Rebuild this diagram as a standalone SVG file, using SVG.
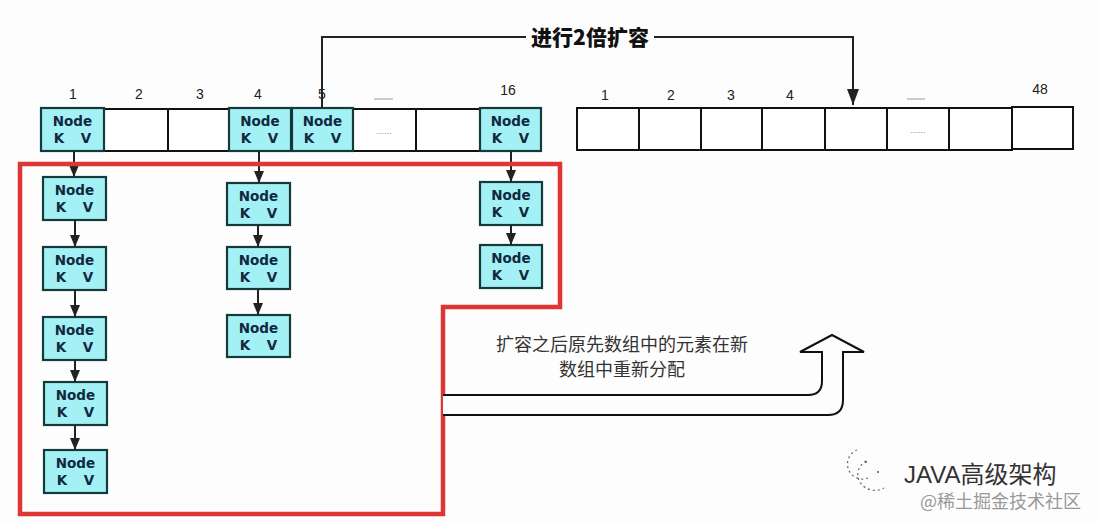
<svg xmlns="http://www.w3.org/2000/svg" width="1100" height="524" viewBox="0 0 1100 524">
<defs>
<style>
.cell{fill:#ffffff;stroke:#111;stroke-width:2}
.node rect{fill:#a3f1f4;stroke:#143a3c;stroke-width:2.2}
.node text{font-family:"DejaVu Sans","Liberation Sans",sans-serif;font-size:13.5px;fill:#102840;text-anchor:middle;font-weight:600}
.idx{font-family:"Liberation Sans",sans-serif;font-size:14px;fill:#222;text-anchor:middle}
.link{stroke:#222;stroke-width:2;fill:none;marker-end:url(#ah)}
.dots{font-family:"Liberation Sans",sans-serif;font-size:9px;fill:#888;text-anchor:middle}
.dash{stroke:#aaa;stroke-width:1.2}
</style>
<marker id="ah" viewBox="0 0 12 10" markerWidth="12" markerHeight="10" refX="12" refY="5" orient="auto" markerUnits="userSpaceOnUse">
<path d="M0,0 L12,5 L0,10 z" fill="#222"/>
</marker>
<marker id="ah2" viewBox="0 0 16 12" markerWidth="16" markerHeight="12" refX="16" refY="6" orient="auto" markerUnits="userSpaceOnUse">
<path d="M0,0 L16,6 L0,12 z" fill="#222"/>
</marker>
</defs>
<rect width="1100" height="524" fill="#fdfdfd"/>

<!-- old array -->
<g id="old-array">
<rect class="cell" x="104" y="109" width="64" height="42"/>
<rect class="cell" x="168" y="109" width="61" height="42"/>
<rect class="cell" x="353" y="109" width="63" height="42"/>
<text class="dots" x="384" y="134">......</text>
<rect class="cell" x="416" y="109" width="64" height="42"/>
<text class="idx" x="73" y="99">1</text>
<text class="idx" x="139" y="99">2</text>
<text class="idx" x="200" y="99">3</text>
<text class="idx" x="258" y="99">4</text>
<text class="idx" x="322" y="99">5</text>
<line class="dash" x1="374" y1="99" x2="393" y2="99"/>
<text class="idx" x="508" y="95">16</text>
</g>

<g id="a1" class="node"><rect x="41" y="108" width="63" height="43"/><text x="72.5" y="126">Node</text><text y="143"><tspan x="59">K</tspan><tspan x="86">V</tspan></text></g>
<g id="a4" class="node"><rect x="229" y="108" width="62" height="43"/><text x="260" y="126">Node</text><text y="143"><tspan x="246">K</tspan><tspan x="273">V</tspan></text></g>
<g id="a5" class="node"><rect x="292" y="108" width="61" height="43"/><text x="322.5" y="126">Node</text><text y="143"><tspan x="309">K</tspan><tspan x="336">V</tspan></text></g>
<g id="a16" class="node"><rect x="480" y="108" width="61" height="43"/><text x="510.5" y="126">Node</text><text y="143"><tspan x="497">K</tspan><tspan x="524">V</tspan></text></g>

<!-- chains -->
<g id="c1n1" class="node"><rect x="43" y="177" width="63" height="43"/><text x="74.5" y="195">Node</text><text y="212"><tspan x="61">K</tspan><tspan x="88">V</tspan></text></g>
<g id="c1n2" class="node"><rect x="43" y="247" width="63" height="43"/><text x="74.5" y="265">Node</text><text y="282"><tspan x="61">K</tspan><tspan x="88">V</tspan></text></g>
<g id="c1n3" class="node"><rect x="43" y="317" width="63" height="43"/><text x="74.5" y="335">Node</text><text y="352"><tspan x="61">K</tspan><tspan x="88">V</tspan></text></g>
<g id="c1n4" class="node"><rect x="44" y="382" width="63" height="43"/><text x="75.5" y="400">Node</text><text y="417"><tspan x="62">K</tspan><tspan x="89">V</tspan></text></g>
<g id="c1n5" class="node"><rect x="44" y="450" width="63" height="43"/><text x="75.5" y="468">Node</text><text y="485"><tspan x="62">K</tspan><tspan x="89">V</tspan></text></g>

<g id="c2n1" class="node"><rect x="227" y="183" width="63" height="42"/><text x="258.5" y="201">Node</text><text y="218"><tspan x="245">K</tspan><tspan x="272">V</tspan></text></g>
<g id="c2n2" class="node"><rect x="227" y="247" width="63" height="42"/><text x="258.5" y="265">Node</text><text y="282"><tspan x="245">K</tspan><tspan x="272">V</tspan></text></g>
<g id="c2n3" class="node"><rect x="227" y="315" width="63" height="42"/><text x="258.5" y="333">Node</text><text y="350"><tspan x="245">K</tspan><tspan x="272">V</tspan></text></g>

<g id="c3n1" class="node"><rect x="480" y="182" width="62" height="43"/><text x="511" y="200">Node</text><text y="217"><tspan x="497">K</tspan><tspan x="524">V</tspan></text></g>
<g id="c3n2" class="node"><rect x="480" y="245" width="62" height="43"/><text x="511" y="263">Node</text><text y="280"><tspan x="497">K</tspan><tspan x="524">V</tspan></text></g>

<!-- new array -->
<g id="new-array">
<rect class="cell" x="577" y="108" width="62" height="42"/>
<rect class="cell" x="639" y="108" width="62" height="42"/>
<rect class="cell" x="701" y="108" width="61" height="42"/>
<rect class="cell" x="762" y="108" width="63" height="42"/>
<rect class="cell" x="825" y="108" width="62" height="42"/>
<rect class="cell" x="887" y="108" width="62" height="42"/>
<text class="dots" x="918" y="133">......</text>
<rect class="cell" x="949" y="108" width="63" height="42"/>
<rect class="cell" x="1012" y="107" width="61" height="42"/>
<text class="idx" x="605" y="100">1</text>
<text class="idx" x="671" y="100">2</text>
<text class="idx" x="731" y="100">3</text>
<text class="idx" x="790" y="100">4</text>
<line class="dash" x1="907" y1="99" x2="925" y2="99"/>
<text class="idx" x="1040" y="94">48</text>
</g>

<g id="connectors">
<path d="M322,108 V37 H526 M654,37 H853 V105" fill="none" stroke="#222" stroke-width="2" marker-end="url(#ah2)"/>
<text x="590" y="45" font-family="'Noto Sans CJK SC',sans-serif" font-size="21" font-weight="900" fill="#111" text-anchor="middle">进行2倍扩容</text>
<line class="link" x1="74" y1="151" x2="74" y2="177"/>
<line class="link" x1="75" y1="220" x2="75" y2="247"/>
<line class="link" x1="75" y1="290" x2="75" y2="317"/>
<line class="link" x1="75" y1="360" x2="75" y2="382"/>
<line class="link" x1="75" y1="425" x2="75" y2="450"/>
<line class="link" x1="259" y1="151" x2="259" y2="183"/>
<line class="link" x1="258" y1="225" x2="258" y2="247"/>
<line class="link" x1="258" y1="289" x2="258" y2="315"/>
<line class="link" x1="511" y1="151" x2="511" y2="182"/>
<line class="link" x1="511" y1="225" x2="511" y2="245"/>
</g>

<!-- red region -->
<path id="region" d="M20,164 H560 V307 H443 V514 H20 Z" fill="none" stroke="#de3535" stroke-width="4.5" stroke-linejoin="miter"/>

<!-- hollow U arrow -->
<g id="redistribute">
<path d="M443,395 H808 Q822,395 822,381 V352 H800 L832,335 L864,352 H843 V400 Q843,415 828,415 H443" fill="#fdfdfd" stroke="#111" stroke-width="2" stroke-linejoin="miter"/>
<text font-family="'Noto Sans CJK SC',sans-serif" font-size="18" fill="#333" text-anchor="middle"><tspan x="622" y="351">扩容之后原先数组中的元素在新</tspan><tspan x="622" y="376">数组中重新分配</tspan></text>
</g>

<!-- watermark -->
<g id="watermark">
<path d="M857,450 A14,14 0 0 0 868,478" fill="none" stroke="#666" stroke-width="1.2" stroke-dasharray="2,3"/>
<path d="M866,461 A13,12 0 1 0 884,488" fill="none" stroke="#666" stroke-width="1.2" stroke-dasharray="2,3"/>
<circle cx="866" cy="462" r="1" fill="#555"/><circle cx="878" cy="472" r="1" fill="#555"/>
<text x="904" y="483" font-family="'Liberation Sans','Noto Sans CJK SC',sans-serif" font-size="24" fill="#333">JAVA高级架构</text>
<text x="920" y="508" font-family="'Noto Sans CJK SC',sans-serif" font-size="18" fill="#999">@稀土掘金技术社区</text>
</g>
</svg>
